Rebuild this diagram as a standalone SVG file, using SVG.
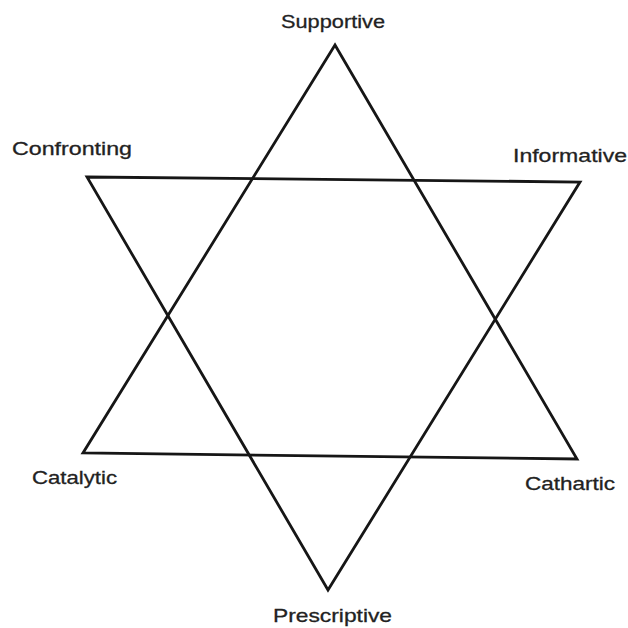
<svg xmlns="http://www.w3.org/2000/svg" width="628" height="628" viewBox="0 0 628 628">
<style>
.lbl{font-family:"Liberation Sans",Arial,sans-serif;font-size:19px;fill:#222;stroke:#222;stroke-width:0.3;}
.tri{fill:none;stroke:#161616;stroke-width:2.8;stroke-linejoin:miter;}
</style>
<rect width="628" height="628" fill="#fff"/>
<g id="connectors">
<polygon class="tri" points="335,45 83,453 577,459"/>
<polygon class="tri" points="87,177 580,182 328,590"/>
</g>
<g id="supportive"><text class="lbl" x="281" y="28" textLength="104" lengthAdjust="spacingAndGlyphs">Supportive</text></g>
<g id="confronting"><text class="lbl" x="12" y="155" textLength="120" lengthAdjust="spacingAndGlyphs">Confronting</text></g>
<g id="informative"><text class="lbl" x="513" y="162" textLength="114" lengthAdjust="spacingAndGlyphs">Informative</text></g>
<g id="catalytic"><text class="lbl" x="32" y="484" textLength="85" lengthAdjust="spacingAndGlyphs">Catalytic</text></g>
<g id="cathartic"><text class="lbl" x="525" y="490" textLength="90" lengthAdjust="spacingAndGlyphs">Cathartic</text></g>
<g id="prescriptive"><text class="lbl" x="273" y="622" textLength="119" lengthAdjust="spacingAndGlyphs">Prescriptive</text></g>
</svg>
